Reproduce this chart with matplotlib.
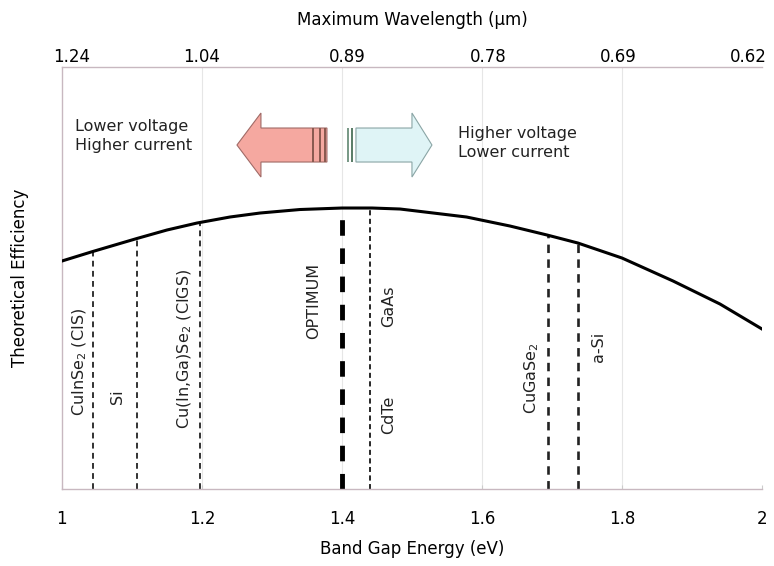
import matplotlib
matplotlib.use("Agg")
import matplotlib.pyplot as plt
from matplotlib.patches import Polygon, Rectangle
from matplotlib.transforms import ScaledTranslation

# efficiency curve (arbitrary units, no y ticks in original)
energy = [1.0, 1.044, 1.107, 1.15, 1.193, 1.24, 1.283, 1.34, 1.40, 1.443, 1.483,
          1.578, 1.64, 1.693, 1.737, 1.80, 1.873, 1.94, 2.0]
efficiency = [228, 237.5, 250.5, 259, 266, 272, 276, 279.5, 281, 281, 280,
              272, 263, 254, 246, 231, 208, 185, 160]

# materials: band gap, top of the dashed line, label position
materials = ["CuInSe$_2$ (CIS)", "Si", "Cu(In,Ga)Se$_2$ (CIGS)", "CdTe", "GaAs", "CuGaSe$_2$", "a-Si"]
mat_gap = [1.044, 1.107, 1.197, 1.44, 1.44, 1.694, 1.737]
mat_line_top = [237.5, 250.5, 266, 281, 281, 254, 246]
mat_line_width = [1.3, 1.3, 1.3, 1.1, 1.1, 1.9, 1.9]
mat_label_x = [1.026, 1.08, 1.176, 1.467, 1.467, 1.671, 1.767]
mat_label_y = [127, 92, 140, 74, 183, 111, 142]
optimum_gap = 1.40
optimum_top = 281

wavelengths = [1.24, 1.04, 0.89, 0.78, 0.69, 0.62]
bottom_ticks = [1, 1.2, 1.4, 1.6, 1.8, 2]
top_label_shift_px = [10, 0, 5, 6, -4, -14]

plt.rcParams['font.family'] = ['DejaVu Sans']
fig = plt.figure(figsize=(7.74, 5.66), dpi=100)
ax = fig.add_axes([0.080, 0.136, 0.9045, 0.7456])

ax.set_xlim(1, 2)
ax.set_ylim(0, 422)
for t in bottom_ticks[1:-1]:
    ax.axvline(t, color="#e6e6e6", lw=0.8, zorder=0)

ax.plot(energy, efficiency, color="black", lw=2.2, zorder=3, solid_joinstyle="round")

for g, top, w in zip(mat_gap, mat_line_top, mat_line_width):
    ax.plot([g, g], [0, top], color="#222222", lw=w, ls=(0, (3.2, 2.4)), zorder=2)
ax.plot([optimum_gap, optimum_gap], [0, optimum_top], color="black", lw=3.5,
        ls=(0, (3.2, 2.6)), zorder=2)

for name, x, y in zip(materials, mat_label_x, mat_label_y):
    ax.text(x, y, name, rotation=90, ha="center", va="center", fontsize=11.5, color="#222222")
ax.text(1.36, 188, "OPTIMUM", rotation=90, ha="center", va="center", fontsize=11.5, color="#222222")

# arrows (placed in axes fraction, from picture pixels)
def to_ax(px, py):
    return ((px - 62) / 700.0, (489 - py) / 422.0)

left_arrow = [to_ax(*p) for p in [(237, 145), (261, 113), (261, 128), (327, 128), (327, 162),
                                   (261, 162), (261, 177)]]
ax.add_patch(Polygon(left_arrow, closed=True, transform=ax.transAxes, facecolor="#f5a8a0",
                     edgecolor="#a06a66", lw=0.8, zorder=4))
for sx in [312, 319, 324]:
    x0, y0 = to_ax(sx, 162)
    ax.add_patch(Rectangle((x0, y0), 2.0 / 700, 34.0 / 422, transform=ax.transAxes,
                           facecolor="#8a5a50", edgecolor="none", zorder=5))

right_arrow = [to_ax(*p) for p in [(356, 128), (412, 128), (412, 113), (432, 145), (412, 177),
                                    (412, 162), (356, 162)]]
ax.add_patch(Polygon(right_arrow, closed=True, transform=ax.transAxes, facecolor="#dff4f6",
                     edgecolor="#8aa5a5", lw=0.8, zorder=4))
for sx, c in [(347, "#7a9a88"), (351, "#5d7f6a")]:
    x0, y0 = to_ax(sx, 162)
    ax.add_patch(Rectangle((x0, y0), 2.5 / 700, 34.0 / 422, transform=ax.transAxes,
                           facecolor=c, edgecolor="none", zorder=5))

ax.text(*to_ax(75, 136), "Lower voltage\nHigher current", transform=ax.transAxes,
        ha="left", va="center", fontsize=11.5, linespacing=1.35, color="#222222")
ax.text(*to_ax(458, 143), "Higher voltage\nLower current", transform=ax.transAxes,
        ha="left", va="center", fontsize=11.5, linespacing=1.35, color="#222222")

ax.set_xticks(bottom_ticks)
ax.set_xticklabels([str(t) for t in bottom_ticks])
ax.set_yticks([])
ax.tick_params(axis="x", direction="in", length=3, color="#cccccc", labelsize=12, pad=15)
ax.set_xlabel("Band Gap Energy (eV)", fontsize=12, labelpad=9)
ax.set_ylabel("Theoretical Efficiency", fontsize=12, labelpad=24)

for side in ["left", "bottom", "top"]:
    ax.spines[side].set_color("#c8b8c0")
    ax.spines[side].set_linewidth(1.0)
ax.spines["right"].set_visible(False)

# top axis: wavelength labels sit at the band-gap grid positions
top = ax.twiny()
top.set_xlim(ax.get_xlim())
top.set_xticks(bottom_ticks)
top.set_xticklabels([f"{w:.2f}" for w in wavelengths])
top.tick_params(axis="x", length=0, labelsize=12, pad=1)
top.set_xlabel("Maximum Wavelength (\u03bcm)", fontsize=12, labelpad=16)
for side in top.spines:
    top.spines[side].set_visible(False)
for lab, dx in zip(top.get_xticklabels(), top_label_shift_px):
    lab.set_transform(lab.get_transform() + ScaledTranslation(dx / 100.0, 0, fig.dpi_scale_trans))

fig.savefig("out.png", dpi=100)
